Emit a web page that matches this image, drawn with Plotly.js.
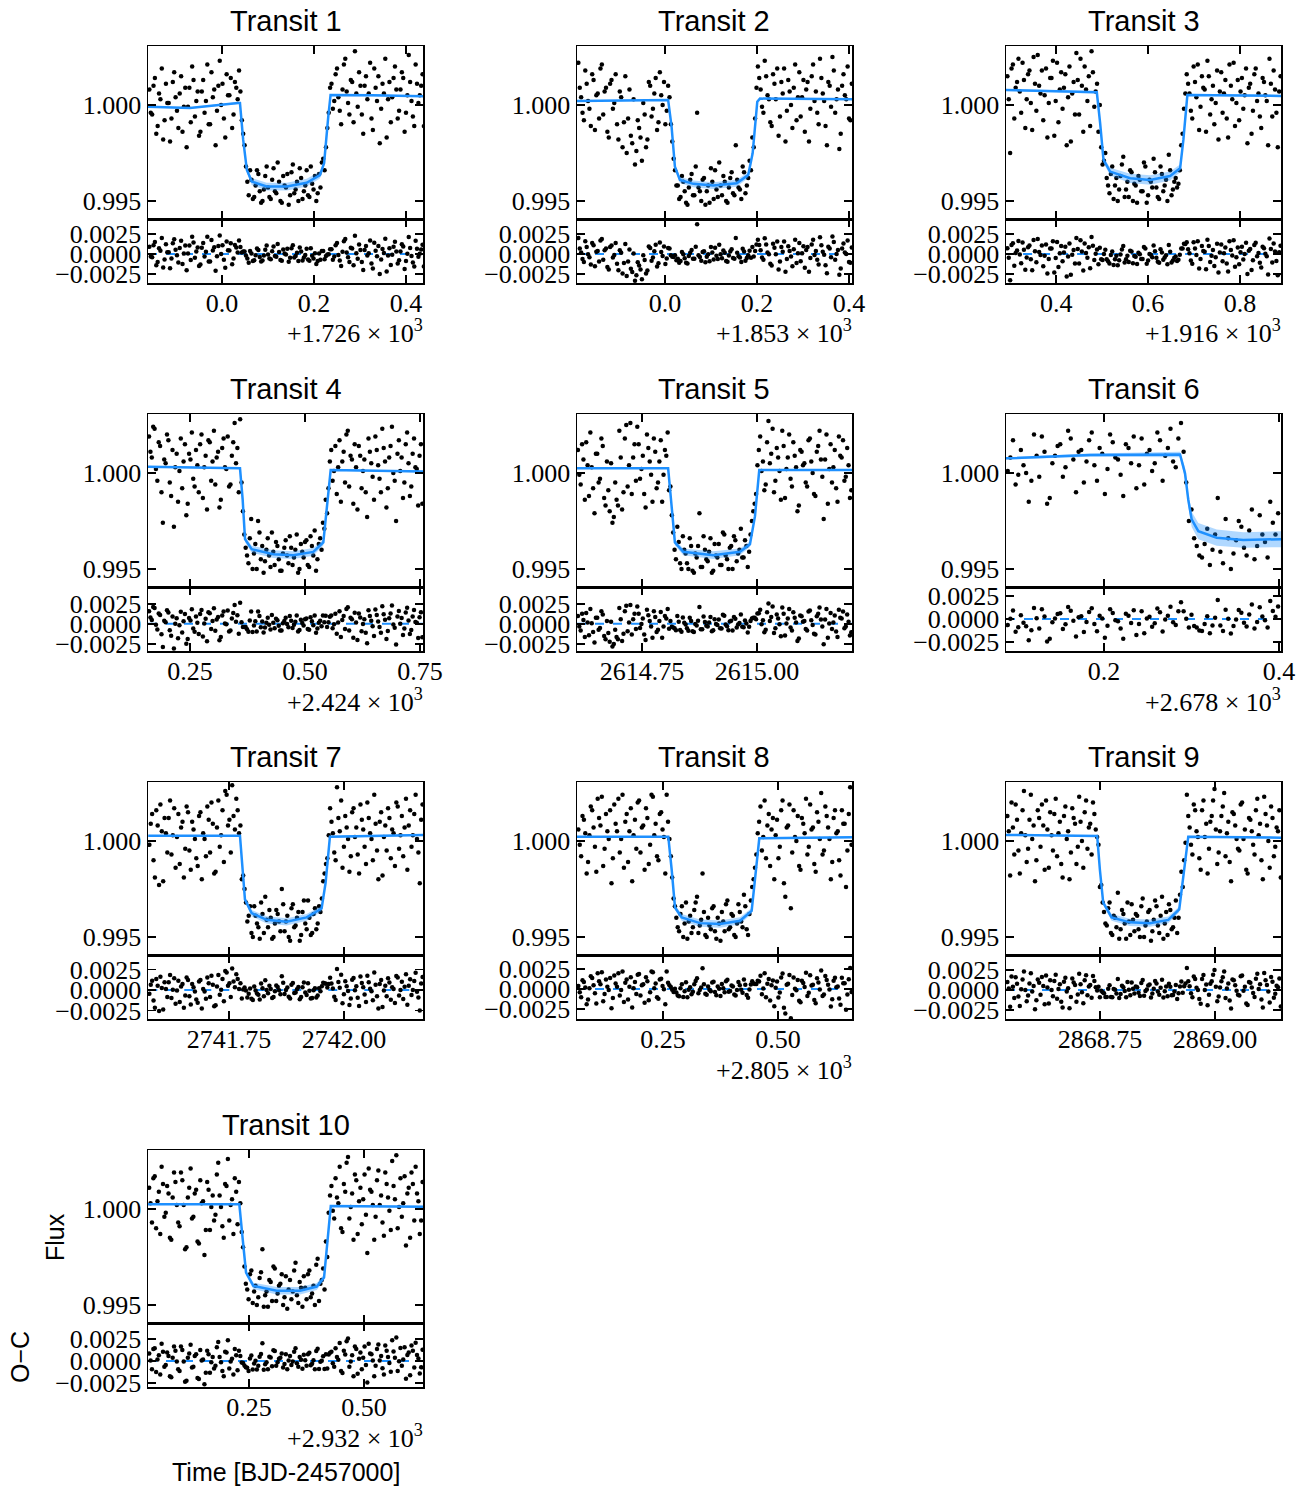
<!DOCTYPE html>
<html>
<head>
<meta charset="utf-8">
<script src="https://cdn.plot.ly/plotly-3.0.1.min.js"></script>
<style>html,body{margin:0;padding:0;background:#fff;}#chart{width:1310px;height:1491px;}</style>
</head>
<body>
<div id="chart"></div>
<script>
// ---------------- DATA (times relative to each panel's offset, BJD-2457000) ----------------
const titles = ["Transit 1","Transit 2","Transit 3","Transit 4","Transit 5","Transit 6","Transit 7","Transit 8","Transit 9","Transit 10"];
const timeOffset = [1726, 1853, 1916, 2424, 2614, 2678, 2741, 2805, 2868, 2932];

// exposure set A
const time1 = [-0.158,-0.152,-0.146,-0.140,-0.134,-0.128,-0.122,-0.116,-0.110,-0.104,-0.098,-0.092,-0.086,-0.080,-0.074,-0.068,-0.062,-0.056,-0.050,-0.044,-0.038,-0.032,-0.026,-0.020,-0.014,-0.008,-0.002,0.004,0.010,0.016,0.022,0.028,0.034,0.040,0.046,0.052,0.058,0.064,0.070,0.076,0.082,0.088,0.094,0.100,0.106,0.112,0.118,0.124,0.130,0.136,0.142,0.148,0.154,0.160,0.166,0.172,0.178,0.184,0.190,0.196,0.202,0.208,0.214,0.220,0.226,0.232,0.238,0.244,0.250,0.256,0.262,0.268,0.274,0.280,0.286,0.292,0.298,0.304,0.310,0.316,0.322,0.328,0.334,0.340,0.346,0.352,0.358,0.364,0.370,0.376,0.382,0.388,0.394,0.400,0.406,0.412,0.418,0.424,0.430,0.436];
const flux1 = [1.0008,0.9995,1.0014,0.9989,1.0003,0.9982,1.0011,1.0001,0.9993,1.0017,0.9997,1.0006,0.9986,1.0009,0.9999,0.9991,1.0013,1.0002,0.9984,1.0007,0.9996,1.0021,0.9990,1.0004,0.9979,1.0010,1.0000,0.9993,1.0016,1.0005,0.9988,1.0012,1.0003,1.0007,0.9985,0.9968,0.9953,0.9961,0.9952,0.9966,0.9955,0.9950,0.9963,0.9957,0.9951,0.9967,0.9954,0.9960,0.9949,0.9958,0.9964,0.9953,0.9969,0.9956,0.9950,0.9962,0.9955,0.9966,0.9952,0.9959,0.9963,0.9954,0.9957,0.9972,0.9978,0.9996,1.0011,1.0002,1.0019,0.9997,1.0008,1.0024,1.0001,1.0013,0.9991,1.0006,1.0017,0.9995,1.0010,1.0003,1.0022,0.9987,1.0009,1.0015,0.9998,1.0006,0.9983,1.0012,1.0004,1.0020,0.9993,1.0008,1.0014,0.9996,1.0026,1.0002,0.9989,1.0011,1.0005,1.0016];
const time2 = [-0.188,-0.182,-0.176,-0.170,-0.164,-0.158,-0.152,-0.146,-0.140,-0.134,-0.128,-0.122,-0.116,-0.110,-0.104,-0.098,-0.092,-0.086,-0.080,-0.074,-0.068,-0.062,-0.056,-0.050,-0.044,-0.038,-0.032,-0.026,-0.020,-0.014,-0.008,-0.002,0.004,0.010,0.016,0.022,0.028,0.034,0.040,0.046,0.052,0.058,0.064,0.070,0.076,0.082,0.088,0.094,0.100,0.106,0.112,0.118,0.124,0.130,0.136,0.142,0.148,0.154,0.160,0.166,0.172,0.178,0.184,0.190,0.196,0.202,0.208,0.214,0.220,0.226,0.232,0.238,0.244,0.250,0.256,0.262,0.268,0.274,0.280,0.286,0.292,0.298,0.304,0.310,0.316,0.322,0.328,0.334,0.340,0.346,0.352,0.358,0.364,0.370,0.376,0.382,0.388,0.394,0.400,0.406];
const flux2 = [1.0022,1.0004,0.9992,1.0011,0.9998,1.0016,0.9987,1.0006,1.0019,0.9995,1.0009,0.9983,1.0013,1.0001,0.9990,1.0007,0.9978,1.0015,0.9993,0.9984,1.0003,0.9976,0.9988,0.9971,0.9995,0.9982,1.0010,0.9998,1.0014,0.9991,1.0005,1.0012,0.9997,1.0004,0.9981,0.9966,0.9958,0.9952,0.9960,0.9949,0.9957,0.9964,0.9953,0.9996,0.9955,0.9961,0.9948,0.9958,0.9967,0.9951,0.9956,0.9970,0.9953,0.9960,0.9949,0.9962,0.9954,0.9979,0.9957,0.9951,0.9965,0.9958,0.9971,0.9983,0.9993,1.0020,1.0008,0.9996,1.0015,1.0003,0.9989,1.0011,1.0019,0.9994,1.0006,0.9981,1.0013,1.0000,1.0009,0.9992,1.0017,1.0004,0.9986,1.0012,0.9998,1.0021,1.0007,0.9990,1.0014,1.0002,0.9979,1.0010,1.0025,0.9996,1.0008,0.9985,1.0016,1.0003,0.9993,1.0011];
const time3 = [0.294,0.300,0.306,0.312,0.318,0.324,0.330,0.336,0.342,0.348,0.354,0.360,0.366,0.372,0.378,0.384,0.390,0.396,0.402,0.408,0.414,0.420,0.426,0.432,0.438,0.444,0.450,0.456,0.462,0.468,0.474,0.480,0.486,0.492,0.498,0.504,0.510,0.516,0.522,0.528,0.534,0.540,0.546,0.552,0.558,0.564,0.570,0.576,0.582,0.588,0.594,0.600,0.606,0.612,0.618,0.624,0.630,0.636,0.642,0.648,0.654,0.660,0.666,0.672,0.678,0.684,0.690,0.696,0.702,0.708,0.714,0.720,0.726,0.732,0.738,0.744,0.750,0.756,0.762,0.768,0.774,0.780,0.786,0.792,0.798,0.804,0.810,0.816,0.822,0.828,0.834,0.840,0.846,0.852,0.858,0.864,0.870,0.876,0.882,0.888];
const flux3 = [1.0015,0.9975,1.0021,1.0009,1.0024,0.9996,1.0013,1.0003,1.0018,0.9987,1.0011,1.0026,1.0006,0.9992,1.0019,1.0001,1.0014,0.9984,1.0022,1.0008,0.9998,1.0016,1.0004,0.9981,1.0012,1.0027,0.9995,1.0010,1.0020,1.0002,0.9989,1.0017,1.0007,0.9986,0.9978,0.9971,0.9962,0.9954,0.9968,0.9958,0.9950,0.9963,0.9973,0.9956,0.9952,0.9965,0.9959,0.9949,0.9961,0.9955,0.9968,0.9953,0.9960,0.9972,0.9957,0.9951,0.9964,0.9958,0.9950,0.9966,0.9956,0.9962,0.9959,0.9979,0.9998,1.0016,1.0006,0.9993,1.0012,1.0021,0.9999,1.0009,0.9986,1.0015,1.0003,0.9990,1.0018,1.0007,0.9996,1.0013,0.9983,1.0010,1.0022,1.0001,0.9992,1.0014,1.0005,0.9980,1.0011,0.9997,1.0019,1.0006,0.9988,1.0012,1.0002,1.0024,0.9994,1.0008,0.9978,1.0015];
const time4 = [0.161,0.167,0.173,0.179,0.185,0.191,0.197,0.203,0.209,0.215,0.221,0.227,0.233,0.239,0.245,0.251,0.257,0.263,0.269,0.275,0.281,0.287,0.293,0.299,0.305,0.311,0.317,0.323,0.329,0.335,0.341,0.347,0.353,0.359,0.365,0.371,0.377,0.383,0.389,0.395,0.401,0.407,0.413,0.419,0.425,0.431,0.437,0.443,0.449,0.455,0.461,0.467,0.473,0.479,0.485,0.491,0.497,0.503,0.509,0.515,0.521,0.527,0.533,0.539,0.545,0.551,0.557,0.563,0.569,0.575,0.581,0.587,0.593,0.599,0.605,0.611,0.617,0.623,0.629,0.635,0.641,0.647,0.653,0.659,0.665,0.671,0.677,0.683,0.689,0.695,0.701,0.707,0.713,0.719,0.725,0.731,0.737,0.743,0.749,0.755];
const flux4 = [1.0019,1.0008,1.0023,0.9996,1.0014,0.9974,1.0005,1.0017,0.9988,0.9972,1.0010,1.0001,0.9992,1.0015,0.9984,1.0007,0.9997,1.0012,0.9990,1.0020,1.0003,0.9981,1.0016,1.0006,0.9994,1.0011,0.9986,1.0018,1.0002,0.9993,1.0009,1.0026,1.0013,1.0028,0.9980,0.9961,0.9953,0.9976,0.9958,0.9950,0.9969,0.9962,0.9954,0.9966,0.9951,0.9959,0.9964,0.9955,0.9949,0.9961,0.9957,0.9967,0.9952,0.9960,0.9948,0.9963,0.9956,0.9965,0.9951,0.9962,0.9970,0.9955,0.9966,0.9974,0.9986,0.9992,1.0012,1.0001,0.9989,1.0017,1.0006,0.9995,1.0022,1.0009,0.9984,1.0003,1.0014,0.9992,1.0007,0.9977,1.0011,0.9998,1.0019,1.0004,0.9990,1.0013,0.9982,1.0008,1.0024,0.9996,1.0010,1.0001,0.9987,1.0015,1.0005,0.9993,1.0018,1.0002,1.0009,0.9984];
const time5 = [0.611,0.617,0.623,0.629,0.635,0.641,0.647,0.653,0.659,0.665,0.671,0.677,0.683,0.689,0.695,0.701,0.707,0.713,0.719,0.725,0.731,0.737,0.743,0.749,0.755,0.761,0.767,0.773,0.779,0.785,0.791,0.797,0.803,0.809,0.815,0.821,0.827,0.833,0.839,0.845,0.851,0.857,0.863,0.869,0.875,0.881,0.887,0.893,0.899,0.905,0.911,0.917,0.923,0.929,0.935,0.941,0.947,0.953,0.959,0.965,0.971,0.977,0.983,0.989,0.995,1.001,1.007,1.013,1.019,1.025,1.031,1.037,1.043,1.049,1.055,1.061,1.067,1.073,1.079,1.085,1.091,1.097,1.103,1.109,1.115,1.121,1.127,1.133,1.139,1.145,1.151,1.157,1.163,1.169,1.175,1.181,1.187,1.193,1.199,1.205];
const flux5 = [1.0012,0.9994,1.0007,1.0016,0.9988,1.0003,0.9979,1.0010,0.9997,1.0014,0.9983,0.9991,1.0005,0.9977,0.9986,1.0022,0.9981,1.0018,0.9993,1.0026,1.0008,0.9996,1.0015,1.0002,0.9989,1.0020,1.0006,0.9985,1.0011,0.9995,1.0017,0.9999,1.0009,0.9991,0.9978,0.9960,0.9972,0.9953,0.9967,0.9958,0.9950,0.9962,0.9948,0.9956,0.9979,0.9951,0.9960,0.9954,0.9966,0.9949,0.9957,0.9963,0.9952,0.9968,0.9955,0.9961,0.9950,0.9965,0.9958,0.9971,0.9956,0.9962,0.9959,0.9975,0.9984,1.0004,1.0019,1.0006,0.9994,1.0027,1.0010,0.9990,1.0013,1.0001,1.0022,0.9987,1.0008,0.9997,1.0016,1.0003,0.9983,1.0011,1.0005,0.9993,1.0018,1.0000,0.9988,1.0014,1.0007,0.9976,1.0020,1.0002,0.9995,1.0012,0.9985,1.0009,1.0017,0.9998,1.0004,0.9991];
const time6 = [0.090,0.096,0.102,0.108,0.114,0.120,0.126,0.132,0.138,0.144,0.150,0.156,0.162,0.168,0.174,0.180,0.186,0.192,0.198,0.204,0.210,0.216,0.222,0.228,0.234,0.240,0.246,0.252,0.258,0.264,0.270,0.276,0.282,0.288,0.294,0.300,0.306,0.312,0.318,0.324,0.330,0.336,0.342,0.348,0.354,0.360,0.366,0.372,0.378,0.384,0.390,0.396];
const flux6 = [1.0001,1.0017,0.9999,1.0004,0.9985,1.0020,0.9998,1.0011,0.9987,1.0009,1.0015,1.0003,1.0018,0.9990,1.0012,1.0006,1.0021,0.9996,1.0010,1.0002,1.0016,1.0007,0.9988,1.0013,1.0019,1.0004,0.9994,1.0012,1.0005,1.0017,1.0009,1.0023,1.0003,1.0026,0.9995,0.9981,0.9962,0.9956,0.9971,0.9960,0.9987,0.9953,0.9966,0.9958,0.9975,0.9961,0.9970,0.9955,0.9978,0.9964,0.9985,0.9968];
const time7 = [0.577,0.583,0.589,0.595,0.601,0.607,0.613,0.619,0.625,0.631,0.637,0.643,0.649,0.655,0.661,0.667,0.673,0.679,0.685,0.691,0.697,0.703,0.709,0.715,0.721,0.727,0.733,0.739,0.745,0.751,0.757,0.763,0.769,0.775,0.781,0.787,0.793,0.799,0.805,0.811,0.817,0.823,0.829,0.835,0.841,0.847,0.853,0.859,0.865,0.871,0.877,0.883,0.889,0.895,0.901,0.907,0.913,0.919,0.925,0.931,0.937,0.943,0.949,0.955,0.961,0.967,0.973,0.979,0.985,0.991,0.997,1.003,1.009,1.015,1.021,1.027,1.033,1.039,1.045,1.051,1.057,1.063,1.069,1.075,1.081,1.087,1.093,1.099,1.105,1.111,1.117,1.123,1.129,1.135,1.141,1.147,1.153,1.159,1.165,1.171];
const flux7 = [0.9998,1.0014,0.9981,1.0008,1.0019,0.9979,1.0004,1.0012,0.9993,1.0017,1.0002,0.9988,1.0010,0.9996,1.0015,0.9985,1.0006,0.9991,1.0013,0.9980,1.0001,1.0018,0.9994,1.0009,0.9984,1.0021,1.0003,0.9989,1.0024,1.0011,1.0029,1.0006,1.0016,1.0008,0.9982,0.9968,0.9961,0.9952,0.9966,0.9957,0.9949,0.9962,0.9971,0.9955,0.9960,0.9950,0.9964,0.9958,0.9975,0.9953,0.9961,0.9948,0.9967,0.9956,0.9963,0.9951,0.9969,0.9954,0.9960,0.9952,0.9965,0.9957,0.9963,0.9979,0.9988,1.0003,1.0010,0.9994,1.0028,1.0005,0.9986,1.0013,1.0001,0.9992,1.0017,1.0007,0.9983,1.0011,0.9997,1.0020,1.0004,0.9990,1.0009,0.9980,1.0015,1.0002,0.9995,1.0012,1.0006,0.9987,1.0018,1.0003,0.9992,1.0022,1.0008,0.9997,1.0014,1.0001,0.9978,1.0019];
const time8 = [0.066,0.072,0.078,0.084,0.090,0.096,0.102,0.108,0.114,0.120,0.126,0.132,0.138,0.144,0.150,0.156,0.162,0.168,0.174,0.180,0.186,0.192,0.198,0.204,0.210,0.216,0.222,0.228,0.234,0.240,0.246,0.252,0.258,0.264,0.270,0.276,0.282,0.288,0.294,0.300,0.306,0.312,0.318,0.324,0.330,0.336,0.342,0.348,0.354,0.360,0.366,0.372,0.378,0.384,0.390,0.396,0.402,0.408,0.414,0.420,0.426,0.432,0.438,0.444,0.450,0.456,0.462,0.468,0.474,0.480,0.486,0.492,0.498,0.504,0.510,0.516,0.522,0.528,0.534,0.540,0.546,0.552,0.558,0.564,0.570,0.576,0.582,0.588,0.594,0.600,0.606,0.612,0.618,0.624,0.630,0.636,0.642,0.648,0.654,0.660];
const flux8 = [1.0006,0.9992,1.0011,0.9983,1.0003,1.0016,0.9997,1.0022,1.0008,0.9987,1.0014,1.0001,0.9978,1.0019,1.0005,0.9994,1.0024,1.0010,0.9989,1.0017,1.0003,0.9996,1.0021,1.0007,0.9985,1.0012,0.9998,1.0023,1.0009,0.9990,1.0015,1.0002,1.0024,1.0001,0.9981,0.9966,0.9955,0.9962,0.9950,0.9968,0.9958,0.9952,0.9964,0.9971,0.9956,0.9983,0.9951,0.9960,0.9954,0.9966,0.9949,0.9957,0.9963,0.9953,0.9969,0.9955,0.9961,0.9950,0.9967,0.9958,0.9972,0.9954,0.9962,0.9976,0.9986,1.0004,1.0018,1.0002,0.9991,1.0014,1.0006,0.9980,1.0011,0.9997,1.0021,0.9971,1.0008,0.9965,1.0016,1.0000,0.9987,1.0012,1.0004,0.9993,1.0019,1.0007,0.9984,1.0010,1.0025,0.9995,1.0013,1.0001,0.9989,1.0016,1.0005,0.9982,1.0009,0.9976,1.0014,0.9998];
const time9 = [0.549,0.555,0.561,0.567,0.573,0.579,0.585,0.591,0.597,0.603,0.609,0.615,0.621,0.627,0.633,0.639,0.645,0.651,0.657,0.663,0.669,0.675,0.681,0.687,0.693,0.699,0.705,0.711,0.717,0.723,0.729,0.735,0.741,0.747,0.753,0.759,0.765,0.771,0.777,0.783,0.789,0.795,0.801,0.807,0.813,0.819,0.825,0.831,0.837,0.843,0.849,0.855,0.861,0.867,0.873,0.879,0.885,0.891,0.897,0.903,0.909,0.915,0.921,0.927,0.933,0.939,0.945,0.951,0.957,0.963,0.969,0.975,0.981,0.987,0.993,0.999,1.005,1.011,1.017,1.023,1.029,1.035,1.041,1.047,1.053,1.059,1.065,1.071,1.077,1.083,1.089,1.095,1.101,1.107,1.113,1.119,1.125,1.131,1.137,1.143];
const flux9 = [1.0013,0.9982,1.0007,1.0019,0.9995,1.0004,1.0026,0.9989,1.0011,1.0001,0.9979,1.0016,0.9997,1.0008,1.0021,0.9986,1.0003,1.0014,0.9992,1.0010,0.9981,1.0018,1.0005,0.9994,1.0012,0.9988,1.0023,1.0000,1.0015,0.9996,1.0009,1.0020,1.0006,0.9998,0.9977,0.9963,0.9956,0.9968,0.9951,0.9960,0.9973,0.9954,0.9962,0.9949,0.9958,0.9967,0.9953,0.9961,0.9950,0.9970,0.9956,0.9963,0.9948,0.9959,0.9966,0.9952,0.9971,0.9957,0.9951,0.9964,0.9955,0.9969,0.9960,0.9984,0.9990,1.0024,1.0007,0.9993,1.0016,1.0002,0.9985,1.0021,1.0009,0.9996,1.0013,1.0027,0.9988,1.0005,1.0018,0.9992,1.0010,0.9979,1.0014,1.0001,0.9995,1.0020,1.0006,0.9983,1.0011,0.9998,1.0016,1.0003,0.9990,1.0023,1.0008,0.9986,1.0012,0.9997,1.0005,0.9981];
const time10 = [0.033,0.039,0.045,0.051,0.057,0.063,0.069,0.075,0.081,0.087,0.093,0.099,0.105,0.111,0.117,0.123,0.129,0.135,0.141,0.147,0.153,0.159,0.165,0.171,0.177,0.183,0.189,0.195,0.201,0.207,0.213,0.219,0.225,0.231,0.237,0.243,0.249,0.255,0.261,0.267,0.273,0.279,0.285,0.291,0.297,0.303,0.309,0.315,0.321,0.327,0.333,0.339,0.345,0.351,0.357,0.363,0.369,0.375,0.381,0.387,0.393,0.399,0.405,0.411,0.417,0.423,0.429,0.435,0.441,0.447,0.453,0.459,0.465,0.471,0.477,0.483,0.489,0.495,0.501,0.507,0.513,0.519,0.525,0.531,0.537,0.543,0.549,0.555,0.561,0.567,0.573,0.579,0.585,0.591,0.597,0.603,0.609,0.615,0.621,0.627];
const flux10 = [1.0011,0.9993,1.0017,1.0004,0.9987,1.0013,0.9998,1.0008,0.9984,1.0019,1.0002,0.9991,1.0015,0.9979,1.0006,1.0021,0.9996,1.0010,0.9982,1.0003,0.9976,1.0014,0.9989,1.0007,0.9997,1.0024,1.0001,0.9985,1.0012,0.9994,1.0005,1.0016,0.9992,1.0003,0.9980,0.9961,0.9953,0.9968,0.9957,0.9950,0.9964,0.9979,0.9955,0.9949,0.9962,0.9970,0.9952,0.9960,0.9966,0.9954,0.9948,0.9963,0.9957,0.9972,0.9951,0.9959,0.9965,0.9953,0.9968,0.9956,0.9950,0.9974,0.9961,0.9969,0.9983,0.9998,1.0012,0.9995,1.0006,1.0022,0.9988,1.0009,1.0027,1.0001,0.9984,1.0015,1.0004,0.9992,1.0018,0.9977,1.0010,1.0002,0.9996,1.0020,1.0007,0.9986,1.0013,0.9999,1.0025,1.0005,0.9990,1.0016,1.0003,0.9981,1.0011,1.0019,0.9994,1.0008,0.9987,1.0014];

// exposure set B (interleaved)
const time1b = [-0.155,-0.149,-0.143,-0.137,-0.131,-0.125,-0.119,-0.113,-0.107,-0.101,-0.095,-0.089,-0.083,-0.077,-0.071,-0.065,-0.059,-0.053,-0.047,-0.041,-0.035,-0.029,-0.023,-0.017,-0.011,-0.005,0.001,0.007,0.013,0.019,0.025,0.031,0.037,0.043,0.049,0.055,0.061,0.067,0.073,0.079,0.085,0.091,0.097,0.103,0.109,0.115,0.121,0.127,0.133,0.139,0.145,0.151,0.157,0.163,0.169,0.175,0.181,0.187,0.193,0.199,0.205,0.211,0.217,0.223,0.229,0.235,0.241,0.247,0.253,0.259,0.265,0.271,0.277,0.283,0.289,0.295,0.301,0.307,0.313,0.319,0.325,0.331,0.337,0.343,0.349,0.355,0.361,0.367,0.373,0.379,0.385,0.391,0.397,0.403,0.409,0.415,0.421,0.427,0.433,0.439];
const flux1b = [0.9996,1.0010,0.9985,1.0006,1.0019,0.9992,1.0001,0.9981,1.0012,1.0004,0.9988,1.0015,0.9999,0.9978,1.0009,1.0020,0.9994,1.0007,0.9986,1.0013,1.0002,0.9990,1.0017,1.0008,0.9997,1.0023,1.0011,0.9983,1.0005,1.0014,0.9995,1.0009,1.0018,0.9992,0.9979,0.9960,0.9966,0.9951,0.9958,0.9964,0.9949,0.9956,0.9968,0.9952,0.9961,0.9955,0.9970,0.9950,0.9963,0.9957,0.9948,0.9965,0.9954,0.9960,0.9967,0.9951,0.9958,0.9953,0.9968,0.9956,0.9950,0.9964,0.9970,0.9966,0.9988,1.0009,0.9998,1.0016,1.0004,0.9990,1.0021,1.0007,0.9995,1.0012,1.0028,0.9999,1.0010,0.9985,1.0015,1.0006,0.9993,1.0019,1.0002,0.9980,1.0011,1.0024,1.0003,0.9991,1.0014,1.0008,0.9997,1.0017,0.9986,1.0005,1.0012,0.9994,1.0021,1.0001,1.0010,0.9989];
const time2b = [-0.185,-0.179,-0.173,-0.167,-0.161,-0.155,-0.149,-0.143,-0.137,-0.131,-0.125,-0.119,-0.113,-0.107,-0.101,-0.095,-0.089,-0.083,-0.077,-0.071,-0.065,-0.059,-0.053,-0.047,-0.041,-0.035,-0.029,-0.023,-0.017,-0.011,-0.005,0.001,0.007,0.013,0.019,0.025,0.031,0.037,0.043,0.049,0.055,0.061,0.067,0.073,0.079,0.085,0.091,0.097,0.103,0.109,0.115,0.121,0.127,0.133,0.139,0.145,0.151,0.157,0.163,0.169,0.175,0.181,0.187,0.193,0.199,0.205,0.211,0.217,0.223,0.229,0.235,0.241,0.247,0.253,0.259,0.265,0.271,0.277,0.283,0.289,0.295,0.301,0.307,0.313,0.319,0.325,0.331,0.337,0.343,0.349,0.355,0.361,0.367,0.373,0.379,0.385,0.391,0.397,0.403];
const flux2b = [1.0009,0.9996,1.0018,1.0002,0.9989,1.0013,1.0005,0.9993,1.0021,1.0007,0.9986,1.0011,0.9998,1.0016,0.9982,1.0004,0.9991,0.9975,1.0008,0.9980,0.9969,0.9992,0.9983,1.0001,0.9978,1.0012,0.9994,1.0006,0.9987,1.0017,1.0000,0.9990,1.0010,0.9990,0.9972,0.9958,0.9951,0.9963,0.9955,0.9948,0.9961,0.9953,0.9968,0.9957,0.9950,0.9962,0.9955,0.9949,0.9960,0.9966,0.9952,0.9958,0.9963,0.9950,0.9957,0.9965,0.9953,0.9961,0.9956,0.9968,0.9954,0.9962,0.9966,0.9978,1.0009,1.0014,0.9999,1.0023,1.0005,0.9991,1.0016,1.0003,0.9984,1.0012,1.0019,0.9997,1.0007,0.9988,1.0021,1.0004,0.9994,1.0013,1.0008,0.9981,1.0015,1.0002,0.9996,1.0024,1.0006,0.9989,1.0012,0.9999,1.0018,1.0003,0.9977,1.0010,1.0005,1.0020,0.9992];
const time3b = [0.297,0.303,0.309,0.315,0.321,0.327,0.333,0.339,0.345,0.351,0.357,0.363,0.369,0.375,0.381,0.387,0.393,0.399,0.405,0.411,0.417,0.423,0.429,0.435,0.441,0.447,0.453,0.459,0.465,0.471,0.477,0.483,0.489,0.495,0.501,0.507,0.513,0.519,0.525,0.531,0.537,0.543,0.549,0.555,0.561,0.567,0.573,0.579,0.585,0.591,0.597,0.603,0.609,0.615,0.621,0.627,0.633,0.639,0.645,0.651,0.657,0.663,0.669,0.675,0.681,0.687,0.693,0.699,0.705,0.711,0.717,0.723,0.729,0.735,0.741,0.747,0.753,0.759,0.765,0.771,0.777,0.783,0.789,0.795,0.801,0.807,0.813,0.819,0.825,0.831,0.837,0.843,0.849,0.855,0.861,0.867,0.873,0.879,0.885];
const flux3b = [1.0003,1.0019,0.9993,1.0012,1.0007,1.0022,0.9988,1.0016,1.0001,1.0025,0.9997,1.0010,1.0018,1.0005,0.9983,1.0014,1.0023,1.0002,0.9991,1.0017,1.0009,0.9979,1.0020,1.0006,0.9995,1.0013,1.0024,0.9986,1.0008,1.0015,1.0028,0.9999,1.0011,1.0000,0.9969,0.9975,0.9958,0.9964,0.9951,0.9962,0.9956,0.9969,0.9952,0.9960,0.9966,0.9950,0.9958,0.9963,0.9955,0.9970,0.9949,0.9961,0.9957,0.9965,0.9952,0.9968,0.9955,0.9961,0.9974,0.9953,0.9960,0.9957,0.9966,0.9985,1.0006,1.0011,0.9997,1.0020,1.0004,0.9987,1.0015,1.0008,1.0023,0.9995,1.0010,1.0001,0.9982,1.0017,1.0006,0.9993,1.0021,1.0003,0.9989,1.0013,1.0007,0.9998,1.0019,1.0009,0.9985,1.0016,1.0002,0.9994,1.0014,1.0005,0.9979,1.0011,1.0018,0.9996,1.0007];
const time4b = [0.164,0.170,0.176,0.182,0.188,0.194,0.200,0.206,0.212,0.218,0.224,0.230,0.236,0.242,0.248,0.254,0.260,0.266,0.272,0.278,0.284,0.290,0.296,0.302,0.308,0.314,0.320,0.326,0.332,0.338,0.344,0.350,0.356,0.362,0.368,0.374,0.380,0.386,0.392,0.398,0.404,0.410,0.416,0.422,0.428,0.434,0.440,0.446,0.452,0.458,0.464,0.470,0.476,0.482,0.488,0.494,0.500,0.506,0.512,0.518,0.524,0.530,0.536,0.542,0.548,0.554,0.560,0.566,0.572,0.578,0.584,0.590,0.596,0.602,0.608,0.614,0.620,0.626,0.632,0.638,0.644,0.650,0.656,0.662,0.668,0.674,0.680,0.686,0.692,0.698,0.704,0.710,0.716,0.722,0.728,0.734,0.740,0.746,0.752];
const flux4b = [1.0011,1.0024,1.0002,1.0016,0.9990,1.0007,1.0020,0.9995,1.0012,1.0003,0.9985,1.0018,1.0006,0.9978,1.0010,1.0021,0.9993,1.0004,1.0015,0.9987,1.0009,1.0017,0.9996,1.0022,1.0008,0.9982,1.0013,1.0003,1.0019,0.9994,1.0016,1.0005,0.9990,0.9995,0.9968,0.9957,0.9966,0.9950,0.9963,0.9975,0.9955,0.9948,0.9960,0.9957,0.9969,0.9952,0.9962,0.9949,0.9958,0.9965,0.9953,0.9961,0.9956,0.9968,0.9950,0.9959,0.9964,0.9952,0.9967,0.9957,0.9949,0.9963,0.9960,0.9971,0.9979,1.0006,0.9996,1.0014,1.0003,0.9985,1.0011,1.0020,0.9993,1.0007,1.0015,0.9981,1.0009,1.0001,0.9990,1.0018,1.0005,0.9986,1.0012,0.9997,1.0023,1.0006,0.9992,1.0014,1.0000,0.9975,1.0017,1.0008,0.9995,1.0021,0.9988,1.0010,1.0003,0.9983,1.0015];
const time5b = [0.614,0.620,0.626,0.632,0.638,0.644,0.650,0.656,0.662,0.668,0.674,0.680,0.686,0.692,0.698,0.704,0.710,0.716,0.722,0.728,0.734,0.740,0.746,0.752,0.758,0.764,0.770,0.776,0.782,0.788,0.794,0.800,0.806,0.812,0.818,0.824,0.830,0.836,0.842,0.848,0.854,0.860,0.866,0.872,0.878,0.884,0.890,0.896,0.902,0.908,0.914,0.920,0.926,0.932,0.938,0.944,0.950,0.956,0.962,0.968,0.974,0.980,0.986,0.992,0.998,1.004,1.010,1.016,1.022,1.028,1.034,1.040,1.046,1.052,1.058,1.064,1.070,1.076,1.082,1.088,1.094,1.100,1.106,1.112,1.118,1.124,1.130,1.136,1.142,1.148,1.154,1.160,1.166,1.172,1.178,1.184,1.190,1.196,1.202];
const flux5b = [0.9999,1.0015,0.9986,1.0004,1.0021,0.9992,1.0010,0.9995,1.0018,0.9987,1.0006,0.9980,0.9974,0.9995,0.9983,1.0008,0.9990,1.0025,1.0004,0.9989,1.0015,1.0024,0.9997,1.0009,0.9982,1.0013,0.9999,1.0018,0.9992,1.0006,0.9985,1.0012,1.0021,0.9993,0.9969,0.9955,0.9964,0.9950,0.9960,0.9953,0.9966,0.9949,0.9958,0.9962,0.9951,0.9967,0.9955,0.9959,0.9948,0.9963,0.9956,0.9952,0.9969,0.9957,0.9950,0.9962,0.9967,0.9954,0.9960,0.9956,0.9965,0.9951,0.9968,0.9980,0.9989,1.0012,1.0001,0.9991,1.0016,1.0005,1.0023,0.9996,1.0008,0.9986,1.0014,1.0002,1.0020,0.9993,1.0009,0.9980,1.0012,1.0004,0.9995,1.0017,1.0006,0.9989,1.0011,1.0022,0.9998,1.0007,0.9984,1.0015,1.0003,0.9992,1.0019,1.0008,0.9996,1.0013,0.9987];
const time6b = [0.093,0.099,0.105,0.111,0.117,0.123,0.129,0.135,0.141,0.147,0.153,0.159,0.165,0.171,0.177,0.183,0.189,0.195,0.201,0.207,0.213,0.219,0.225,0.231,0.237,0.243,0.249,0.255,0.261,0.267,0.273,0.279,0.285,0.291,0.297,0.303,0.309,0.315,0.321,0.327,0.333,0.339,0.345,0.351,0.357,0.363,0.369,0.375,0.381,0.387,0.393,0.399];
const flux6b = [1.0008,0.9994,1.0012,1.0000,0.9996,1.0009,1.0019,0.9984,1.0005,1.0014,0.9998,1.0022,1.0007,1.0011,0.9995,1.0017,1.0004,1.0013,0.9989,1.0020,1.0008,0.9999,1.0015,1.0005,0.9992,1.0018,1.0010,1.0001,1.0021,0.9996,1.0013,1.0006,1.0018,1.0011,0.9975,0.9966,0.9957,0.9963,0.9952,0.9968,0.9959,0.9976,0.9950,0.9965,0.9972,0.9957,0.9981,0.9962,0.9968,0.9956,0.9974,0.9979];
const time7b = [0.580,0.586,0.592,0.598,0.604,0.610,0.616,0.622,0.628,0.634,0.640,0.646,0.652,0.658,0.664,0.670,0.676,0.682,0.688,0.694,0.700,0.706,0.712,0.718,0.724,0.730,0.736,0.742,0.748,0.754,0.760,0.766,0.772,0.778,0.784,0.790,0.796,0.802,0.808,0.814,0.820,0.826,0.832,0.838,0.844,0.850,0.856,0.862,0.868,0.874,0.880,0.886,0.892,0.898,0.904,0.910,0.916,0.922,0.928,0.934,0.940,0.946,0.952,0.958,0.964,0.970,0.976,0.982,0.988,0.994,1.000,1.006,1.012,1.018,1.024,1.030,1.036,1.042,1.048,1.054,1.060,1.066,1.072,1.078,1.084,1.090,1.096,1.102,1.108,1.114,1.120,1.126,1.132,1.138,1.144,1.150,1.156,1.162,1.168];
const flux7b = [1.0009,0.9990,1.0016,0.9977,1.0005,1.0012,0.9994,1.0021,1.0003,0.9986,1.0014,1.0007,0.9981,1.0018,0.9995,1.0010,1.0001,0.9987,1.0015,1.0004,0.9992,1.0011,1.0020,0.9983,1.0007,0.9997,1.0016,1.0026,1.0008,0.9994,1.0013,1.0022,1.0004,0.9980,0.9975,0.9958,0.9966,0.9950,0.9961,0.9955,0.9968,0.9952,0.9959,0.9964,0.9949,0.9957,0.9962,0.9953,0.9967,0.9958,0.9950,0.9965,0.9955,0.9960,0.9948,0.9963,0.9957,0.9969,0.9951,0.9962,0.9954,0.9966,0.9970,0.9983,0.9991,1.0017,1.0004,0.9990,1.0012,1.0021,0.9997,1.0007,0.9984,1.0015,1.0002,0.9993,1.0019,1.0006,0.9988,1.0012,1.0001,1.0024,0.9995,1.0010,0.9982,1.0008,1.0017,0.9991,1.0004,1.0020,0.9996,1.0013,1.0007,0.9985,1.0016,1.0003,1.0024,0.9994,1.0011];
const time8b = [0.069,0.075,0.081,0.087,0.093,0.099,0.105,0.111,0.117,0.123,0.129,0.135,0.141,0.147,0.153,0.159,0.165,0.171,0.177,0.183,0.189,0.195,0.201,0.207,0.213,0.219,0.225,0.231,0.237,0.243,0.249,0.255,0.261,0.267,0.273,0.279,0.285,0.291,0.297,0.303,0.309,0.315,0.321,0.327,0.333,0.339,0.345,0.351,0.357,0.363,0.369,0.375,0.381,0.387,0.393,0.399,0.405,0.411,0.417,0.423,0.429,0.435,0.441,0.447,0.453,0.459,0.465,0.471,0.477,0.483,0.489,0.495,0.501,0.507,0.513,0.519,0.525,0.531,0.537,0.543,0.549,0.555,0.561,0.567,0.573,0.579,0.585,0.591,0.597,0.603,0.609,0.615,0.621,0.627,0.633,0.639,0.645,0.651,0.657];
const flux8b = [0.9998,1.0013,1.0004,0.9989,1.0018,1.0007,0.9984,1.0012,1.0023,0.9996,1.0005,1.0016,0.9991,1.0009,1.0022,1.0001,0.9986,1.0014,1.0005,0.9979,1.0011,1.0020,0.9994,1.0008,1.0017,0.9988,1.0024,1.0003,0.9992,1.0014,1.0006,0.9983,1.0010,0.9992,0.9970,0.9960,0.9953,0.9966,0.9957,0.9949,0.9961,0.9955,0.9968,0.9952,0.9959,0.9963,0.9950,0.9956,0.9965,0.9953,0.9960,0.9948,0.9958,0.9967,0.9954,0.9962,0.9951,0.9957,0.9963,0.9955,0.9966,0.9951,0.9969,0.9980,0.9993,1.0010,0.9995,1.0021,1.0008,0.9987,1.0012,1.0003,0.9991,1.0016,0.9978,1.0007,1.0019,0.9994,1.0002,1.0013,0.9985,1.0009,1.0022,0.9997,1.0006,0.9988,1.0015,1.0001,0.9993,1.0018,1.0007,0.9980,1.0012,1.0004,0.9990,1.0016,1.0009,0.9995,1.0028];
const time9b = [0.552,0.558,0.564,0.570,0.576,0.582,0.588,0.594,0.600,0.606,0.612,0.618,0.624,0.630,0.636,0.642,0.648,0.654,0.660,0.666,0.672,0.678,0.684,0.690,0.696,0.702,0.708,0.714,0.720,0.726,0.732,0.738,0.744,0.750,0.756,0.762,0.768,0.774,0.780,0.786,0.792,0.798,0.804,0.810,0.816,0.822,0.828,0.834,0.840,0.846,0.852,0.858,0.864,0.870,0.876,0.882,0.888,0.894,0.900,0.906,0.912,0.918,0.924,0.930,0.936,0.942,0.948,0.954,0.960,0.966,0.972,0.978,0.984,0.990,0.996,1.002,1.008,1.014,1.020,1.026,1.032,1.038,1.044,1.050,1.056,1.062,1.068,1.074,1.080,1.086,1.092,1.098,1.104,1.110,1.116,1.122,1.128,1.134,1.140];
const flux9b = [1.0005,1.0020,0.9993,1.0011,0.9983,1.0016,1.0003,0.9996,1.0024,1.0008,0.9990,1.0012,1.0019,0.9985,1.0006,1.0015,0.9995,1.0022,1.0004,0.9988,1.0013,1.0001,0.9980,1.0017,1.0009,0.9997,1.0010,0.9986,1.0021,1.0007,0.9993,1.0014,1.0002,0.9976,0.9968,0.9957,0.9965,0.9952,0.9961,0.9955,0.9949,0.9964,0.9957,0.9968,0.9951,0.9959,0.9962,0.9954,0.9966,0.9950,0.9958,0.9964,0.9953,0.9969,0.9956,0.9961,0.9949,0.9963,0.9967,0.9954,0.9960,0.9952,0.9972,0.9976,0.9999,1.0013,0.9998,1.0019,1.0005,0.9991,1.0016,1.0002,0.9983,1.0010,1.0021,1.0006,0.9994,1.0013,1.0025,1.0004,0.9989,1.0015,1.0008,0.9996,1.0019,1.0001,0.9985,1.0012,1.0005,0.9993,1.0022,1.0009,0.9980,1.0014,1.0000,1.0018,0.9992,1.0007,1.0016];
const time10b = [0.036,0.042,0.048,0.054,0.060,0.066,0.072,0.078,0.084,0.090,0.096,0.102,0.108,0.114,0.120,0.126,0.132,0.138,0.144,0.150,0.156,0.162,0.168,0.174,0.180,0.186,0.192,0.198,0.204,0.210,0.216,0.222,0.228,0.234,0.240,0.246,0.252,0.258,0.264,0.270,0.276,0.282,0.288,0.294,0.300,0.306,0.312,0.318,0.324,0.330,0.336,0.342,0.348,0.354,0.360,0.366,0.372,0.378,0.384,0.390,0.396,0.402,0.408,0.414,0.420,0.426,0.432,0.438,0.444,0.450,0.456,0.462,0.468,0.474,0.480,0.486,0.492,0.498,0.504,0.510,0.516,0.522,0.528,0.534,0.540,0.546,0.552,0.558,0.564,0.570,0.576,0.582,0.588,0.594,0.600,0.606,0.612,0.618,0.624];
const flux10b = [1.0003,1.0016,0.9990,1.0009,1.0022,0.9996,1.0012,0.9985,1.0006,1.0014,0.9993,1.0019,1.0002,0.9980,1.0011,0.9995,1.0008,0.9983,1.0015,1.0004,0.9989,1.0010,1.0001,0.9994,1.0018,1.0007,0.9991,1.0013,1.0026,1.0002,0.9987,1.0009,1.0014,0.9988,0.9970,0.9958,0.9966,0.9951,0.9960,0.9954,0.9967,0.9949,0.9957,0.9963,0.9952,0.9969,0.9956,0.9961,0.9950,0.9965,0.9958,0.9953,0.9968,0.9955,0.9962,0.9949,0.9959,0.9966,0.9954,0.9960,0.9971,0.9952,0.9963,0.9958,0.9975,1.0007,0.9999,1.0016,1.0003,0.9990,1.0013,1.0024,0.9995,1.0008,1.0018,0.9987,1.0011,1.0005,0.9997,1.0021,1.0009,0.9984,1.0015,1.0002,0.9993,1.0019,1.0006,0.9989,1.0012,1.0028,1.0001,0.9996,1.0017,1.0008,0.9985,1.0013,1.0022,1.0004,0.9994];

// Best-fit transit model (vertices) and the half-width of its shaded band
const modelTime1 = [-0.161,-0.070,0.035,0.039,0.046,0.054,0.0645,0.097,0.141,0.184,0.213,0.222,0.231,0.236,0.328,0.437];
const modelFlux1 = [0.99991,0.99984,1.0001,1.0001,0.99818,0.99661,0.99601,0.99575,0.99575,0.99595,0.99635,0.99698,0.99939,1.00052,1.0005,1.00045];
const bandHalf1  = [0.00004,0.00004,0.00005,0.00005,0.00008,0.00012,0.00018,0.0002,0.0002,0.0002,0.00018,0.00012,0.00008,0.00005,0.00004,0.00004];
const modelTime2 = [-0.191,0.007,0.0145,0.0217,0.0326,0.0616,0.105,0.156,0.181,0.1906,0.2007,0.2065,0.4065];
const modelFlux2 = [1.00021,1.00026,0.99887,0.99679,0.99609,0.99589,0.9958,0.99592,0.99635,0.99748,1.00017,1.00033,1.0003];
const bandHalf2  = [0.00004,0.00004,0.00008,0.00012,0.00016,0.00018,0.00018,0.00018,0.00015,0.0001,0.00006,0.00004,0.00004];
const modelTime3 = [0.289,0.4885,0.4957,0.503,0.5174,0.561,0.6043,0.6478,0.6696,0.6767,0.6854,0.889];
const modelFlux3 = [1.00078,1.00066,0.99905,0.99714,0.99653,0.99618,0.99609,0.9963,0.9967,0.99818,1.00052,1.00047];
const bandHalf3  = [0.00005,0.00006,0.0001,0.00015,0.0002,0.00024,0.00025,0.00024,0.0002,0.00012,0.00006,0.00005];
const modelTime4 = [0.1587,0.3587,0.3645,0.3696,0.3841,0.4312,0.4746,0.518,0.5398,0.5471,0.5558,0.7565];
const modelFlux4 = [1.00032,1.00024,0.99861,0.99655,0.99603,0.99577,0.99572,0.99589,0.99638,0.99809,1.00015,1.00007];
const bandHalf4  = [0.00004,0.00004,0.00008,0.00014,0.00018,0.0002,0.0002,0.0002,0.00016,0.0001,0.00005,0.00004];
const modelTime5 = [0.609,0.807,0.8146,0.8217,0.8398,0.905,0.963,0.9848,0.9957,1.005,1.2065];
const modelFlux5 = [1.00024,1.00024,0.99826,0.99638,0.99589,0.99572,0.99589,0.99629,0.99775,1.00015,1.00015];
const bandHalf5  = [0.00004,0.00004,0.00008,0.00014,0.00018,0.0002,0.00018,0.00015,0.0001,0.00005,0.00004];
const modelTime6 = [0.088,0.184,0.2869,0.2926,0.2963,0.3002,0.3078,0.3288,0.3592,0.4023];
const modelFlux6 = [1.00076,1.00093,1.00096,0.99998,0.99861,0.99758,0.99697,0.99663,0.99651,0.99655];
const bandHalf6  = [0.00006,0.00008,0.00014,0.0003,0.00035,0.0004,0.00042,0.00042,0.0004,0.00042];
const modelTime7 = [0.5746,0.774,0.7798,0.7848,0.7993,0.832,0.8754,0.9189,0.9515,0.9602,0.9696,1.172];
const modelFlux7 = [1.00027,1.00027,0.9985,0.99696,0.99624,0.99589,0.99579,0.99602,0.99648,0.99782,1.00022,1.00031];
const bandHalf7  = [0.00004,0.00004,0.00008,0.00013,0.00017,0.00019,0.00019,0.00018,0.00015,0.0001,0.00005,0.00004];
const modelTime8 = [0.063,0.2615,0.2689,0.2761,0.2907,0.3304,0.3739,0.4174,0.4428,0.45,0.4594,0.661];
const modelFlux8 = [1.00022,1.00022,0.9985,0.99653,0.99602,0.99572,0.99567,0.99584,0.99636,0.99799,1.00014,1.00019];
const bandHalf8  = [0.00004,0.00004,0.00008,0.00013,0.00017,0.00019,0.00019,0.00018,0.00015,0.0001,0.00005,0.00004];
const modelTime9 = [0.546,0.7441,0.75,0.7572,0.7754,0.8152,0.8587,0.8985,0.9224,0.9311,0.942,1.1435];
const modelFlux9 = [1.00031,1.00026,0.9985,0.99679,0.99602,0.99576,0.99572,0.99589,0.99644,0.99816,1.00022,1.00017];
const bandHalf9  = [0.00004,0.00004,0.00008,0.00013,0.00017,0.00019,0.00019,0.00018,0.00015,0.0001,0.00005,0.00004];
const modelTime10 = [0.0304,0.2289,0.2363,0.2435,0.2594,0.3102,0.3609,0.3971,0.413,0.4202,0.4276,0.628];
const modelFlux10 = [1.00024,1.00024,0.9984,0.99668,0.99599,0.99574,0.99574,0.99596,0.99643,0.9984,1.00015,1.00012];
const bandHalf10  = [0.00004,0.00004,0.00008,0.00013,0.00017,0.00019,0.00019,0.00018,0.00015,0.0001,0.00005,0.00004];

// Axis ranges and tick labels
const xRange = [[1725.839,1726.437],[1852.809,1853.4065],[1916.291,1916.889],[2424.1587,2424.7565],[2614.609,2615.2065],[2678.088,2678.4023],[2741.574,2742.172],[2805.063,2805.661],[2868.546,2869.1435],[2932.0304,2932.628]];
const xTickVals = [[1726.0,1726.2,1726.4],[1853.0,1853.2,1853.4],[1916.4,1916.6,1916.8],[2424.25,2424.5,2424.75],[2614.75,2615.0],[2678.2,2678.4],[2741.75,2742.0],[2805.25,2805.5],[2868.75,2869.0],[2932.25,2932.5]];
const xTickText = [["0.0","0.2","0.4"],["0.0","0.2","0.4"],["0.4","0.6","0.8"],["0.25","0.50","0.75"],["2614.75","2615.00"],["0.2","0.4"],["2741.75","2742.00"],["0.25","0.50"],["2868.75","2869.00"],["0.25","0.50"]];
const offsetLabel = ["+1.726","+1.853","+1.916","+2.424","","+2.678","","+2.805","","+2.932"];
const fluxRange = [0.99406, 1.00307];
const fluxTickVals = [0.995, 1.000];
const fluxTickText = ["0.995", "1.000"];
const resRange = [[-0.003625,0.004375],[-0.003625,0.004375],[-0.003625,0.004375],[-0.0034,0.0046],[-0.0034,0.0046],[-0.00348,0.00348],[-0.00354,0.00427],[-0.00375,0.00425],[-0.003625,0.004375],[-0.00295,0.00432]];
const resTickVals = [-0.0025, 0, 0.0025];
const resTickText = ["\u22120.0025", "0.0000", "0.0025"];

const timesA = [time1,time2,time3,time4,time5,time6,time7,time8,time9,time10];
const fluxesA = [flux1,flux2,flux3,flux4,flux5,flux6,flux7,flux8,flux9,flux10];
const timesB = [time1b,time2b,time3b,time4b,time5b,time6b,time7b,time8b,time9b,time10b];
const fluxesB = [flux1b,flux2b,flux3b,flux4b,flux5b,flux6b,flux7b,flux8b,flux9b,flux10b];
const modelTimes = [modelTime1,modelTime2,modelTime3,modelTime4,modelTime5,modelTime6,modelTime7,modelTime8,modelTime9,modelTime10];
const modelFluxes = [modelFlux1,modelFlux2,modelFlux3,modelFlux4,modelFlux5,modelFlux6,modelFlux7,modelFlux8,modelFlux9,modelFlux10];
const bandHalves = [bandHalf1,bandHalf2,bandHalf3,bandHalf4,bandHalf5,bandHalf6,bandHalf7,bandHalf8,bandHalf9,bandHalf10];

// ---------------- LAYOUT GEOMETRY (pixels) ----------------
const W = 1310, H = 1491;
const colLeft = [148, 577, 1006], panelW = 275;
const rowTop = [46, 414, 782, 1150], fluxH = 173, resH = 64;
const BLUE = '#1e90ff';
const SERIF = 'Liberation Serif, Times New Roman, serif';
const SANS = 'Liberation Sans, Arial, sans-serif';
const TICK_SIZE = 26;

function px2x(p){ return p / W; }
function px2y(p){ return 1 - p / H; }
// observed minus computed: the model polyline evaluated at an observation time
function modelAt(t, xs, ys){
  if (t <= xs[0]) return ys[0];
  for (let i = 1; i < xs.length; i++){
    if (t <= xs[i]){ const u = (t - xs[i-1]) / (xs[i] - xs[i-1]); return ys[i-1] + u * (ys[i] - ys[i-1]); }
  }
  return ys[ys.length - 1];
}

const traces = [];
const layout = {
  width: W, height: H, margin: {l:0, r:0, t:0, b:0},
  paper_bgcolor: '#fff', plot_bgcolor: '#fff', showlegend: false,
  font: {family: SERIF, size: TICK_SIZE, color: '#000'},
  annotations: []
};

function axisBase(){
  return {showline:true, linecolor:'#000', linewidth:1.5, mirror:'ticks', ticks:'inside', ticklen:8, tickwidth:1.5, tickcolor:'#000',
          showgrid:false, zeroline:false, tickfont:{family:SERIF, size:TICK_SIZE, color:'#000'}, fixedrange:true};
}

for (let p = 0; p < 10; p++){
  const col = p % 3, row = Math.floor(p / 3);
  const kF = 2*p + 1, kR = 2*p + 2;
  const xnF = 'x' + kF, ynF = 'y' + kF, xnR = 'x' + kR, ynR = 'y' + kR;
  const x0 = colLeft[col], top = rowTop[row];
  const xdom = [px2x(x0), px2x(x0 + panelW)];

  const off = timeOffset[p];
  const tRel = timesA[p].concat(timesB[p]);
  const fObs = fluxesA[p].concat(fluxesB[p]);
  const tAbs = tRel.map(t => off + t);
  const mtAbs = modelTimes[p].map(t => off + t);
  const mf = modelFluxes[p], mw = bandHalves[p];
  const resid = tRel.map((t, i) => fObs[i] - modelAt(t, modelTimes[p], mf));

  // flux panel
  traces.push({x:tAbs, y:fObs, xaxis:xnF, yaxis:ynF, type:'scatter', mode:'markers', marker:{color:'#000', size:4.5}, hoverinfo:'skip'});
  const up = mf.map((v,i) => v + mw[i]), lo = mf.map((v,i) => v - mw[i]);
  traces.push({x:mtAbs.concat(mtAbs.slice().reverse()), y:up.concat(lo.slice().reverse()), xaxis:xnF, yaxis:ynF, type:'scatter', mode:'lines',
               fill:'toself', fillcolor:'rgba(30,144,255,0.35)', line:{width:0, color:'rgba(30,144,255,0)'}, hoverinfo:'skip'});
  traces.push({x:mtAbs, y:mf, xaxis:xnF, yaxis:ynF, type:'scatter', mode:'lines', line:{color:BLUE, width:2.5}, hoverinfo:'skip'});

  // residual panel
  traces.push({x:[mtAbs[0], mtAbs[mtAbs.length-1]], y:[0,0], xaxis:xnR, yaxis:ynR, type:'scatter', mode:'lines', line:{color:BLUE, width:2, dash:'dash'}, hoverinfo:'skip'});
  traces.push({x:tAbs, y:resid, xaxis:xnR, yaxis:ynR, type:'scatter', mode:'markers', marker:{color:'#000', size:4.5}, hoverinfo:'skip'});

  const xF = Object.assign(axisBase(), {domain:xdom, anchor:ynF, range:xRange[p], tickvals:xTickVals[p], ticktext:xTickText[p], showticklabels:false});
  const xR = Object.assign(axisBase(), {domain:xdom, anchor:ynR, range:xRange[p], tickvals:xTickVals[p], ticktext:xTickText[p], showticklabels:true, ticklabelstandoff:-4});
  const yF = Object.assign(axisBase(), {domain:[px2y(top + fluxH), px2y(top)], anchor:xnF, range:fluxRange, tickvals:fluxTickVals, ticktext:fluxTickText});
  const yR = Object.assign(axisBase(), {domain:[px2y(top + fluxH + resH), px2y(top + fluxH)], anchor:xnR, range:resRange[p], tickvals:resTickVals, ticktext:resTickText});
  layout['xaxis' + kF] = xF; layout['xaxis' + kR] = xR;
  layout['yaxis' + kF] = yF; layout['yaxis' + kR] = yR;

  // title
  layout.annotations.push({text:titles[p], xref:'paper', yref:'paper', x:px2x(x0 + panelW/2), y:px2y(top - 25), xanchor:'center', yanchor:'middle',
                           showarrow:false, font:{family:SANS, size:29, color:'#000'}});
  // offset label
  if (offsetLabel[p]){
    layout.annotations.push({text:offsetLabel[p] + ' \u00d7 10<sup>3</sup>', xref:'paper', yref:'paper', x:px2x(x0 + panelW + 2), y:px2y(top + fluxH + resH + 49),
                             xanchor:'right', yanchor:'middle', showarrow:false, font:{family:SERIF, size:TICK_SIZE, color:'#000'}});
  }
}

// axis labels (bottom-left panel)
layout.annotations.push({text:'Flux', xref:'paper', yref:'paper', x:px2x(55), y:px2y(1237), textangle:-90, xanchor:'center', yanchor:'middle', showarrow:false, font:{family:SANS, size:25, color:'#000'}});
layout.annotations.push({text:'O\u2212C', xref:'paper', yref:'paper', x:px2x(20), y:px2y(1357), textangle:-90, xanchor:'center', yanchor:'middle', showarrow:false, font:{family:SANS, size:25, color:'#000'}});
layout.annotations.push({text:'Time [BJD-2457000]', xref:'paper', yref:'paper', x:px2x(286), y:px2y(1472), xanchor:'center', yanchor:'middle', showarrow:false, font:{family:SANS, size:25, color:'#000'}});

Plotly.newPlot('chart', traces, layout, {staticPlot:true, displayModeBar:false});
</script>
</body>
</html>
